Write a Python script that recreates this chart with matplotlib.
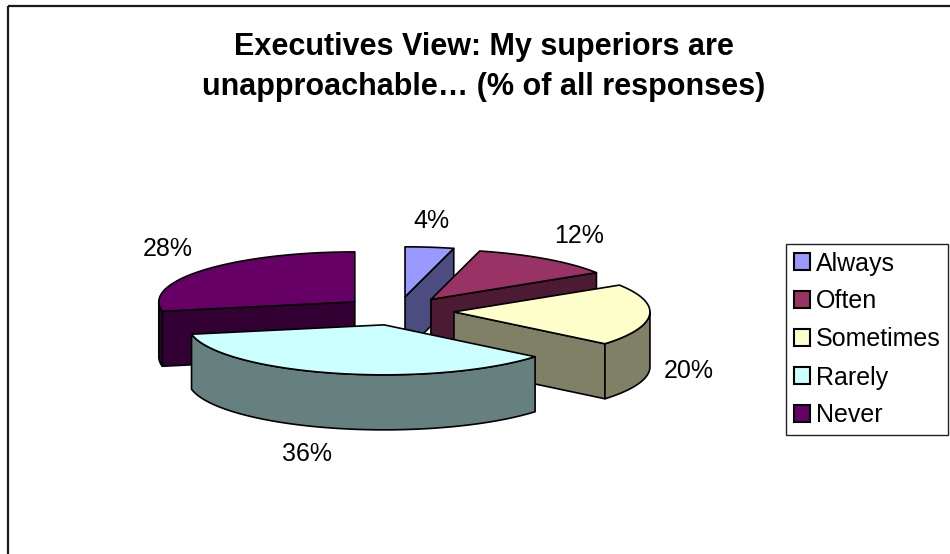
import numpy as np
import matplotlib
matplotlib.use("Agg")
import matplotlib.pyplot as plt
from matplotlib.patches import Polygon, Rectangle, Patch

plt.rcParams['font.family'] = ['Liberation Sans', 'DejaVu Sans']

# Response shares (% of all responses)
categories = ['Always', 'Often', 'Sometimes', 'Rarely', 'Never']
shares = [4, 12, 20, 36, 28]
top_colors = ['#9999FF', '#993366', '#FFFFCC', '#CCFFFF', '#660066']
side_colors = ['#4C4C80', '#4C1A33', '#808066', '#668080', '#330033']

TITLE = 'Executives View: My superiors are\nunapproachable\u2026 (% of all responses)'

# 3-D pie geometry, in figure pixels (y grows downward)
CX, CY = 398, 311
RX, RY = 196, 50
DEPTH = 55
EXPLODE = 0.286
EDGE_LW = 1.2


def rim(cx, cy, ang, dz=0.0):
    t = np.radians(ang)
    return cx + RX * np.sin(t), cy - RY * np.cos(t) + dz


def arc(cx, cy, a0, a1, dz=0.0, n=None):
    n = n or max(int(abs(a1 - a0) / 2) + 2, 3)
    angs = np.linspace(a0, a1, n)
    return [rim(cx, cy, a, dz) for a in angs]


fig = plt.figure(figsize=(9.5, 5.54), dpi=100)
ax = fig.add_axes([0, 0, 1, 1])
ax.set_xlim(0, 950)
ax.set_ylim(554, 0)
ax.axis('off')

# chart area border
ax.add_patch(Rectangle((8, 6), 1000, 600, fill=False, edgecolor='#1a1a1a',
                       linewidth=1.6, zorder=1))

# slice angles, clockwise from 12 o'clock
bounds = np.concatenate([[0], np.cumsum(shares)]) / sum(shares) * 360.0
slices = []
for i in range(len(shares)):
    a0, a1 = bounds[i], bounds[i + 1]
    mid = (a0 + a1) / 2
    cx = CX + EXPLODE * RX * np.sin(np.radians(mid))
    cy = CY - EXPLODE * RY * np.cos(np.radians(mid))
    slices.append((cy, i, a0, a1, mid, cx))

# paint back to front
z = 2
for cy, i, a0, a1, mid, cx in sorted(slices):
    kw = dict(edgecolor='black', linewidth=EDGE_LW, joinstyle='round')
    faces = []
    if np.sin(np.radians(a0)) < -1e-6:
        p = rim(cx, cy, a0)
        faces.append([(cx, cy), p, (p[0], p[1] + DEPTH), (cx, cy + DEPTH)])
    if np.sin(np.radians(a1)) > 1e-6:
        p = rim(cx, cy, a1)
        faces.append([(cx, cy), p, (p[0], p[1] + DEPTH), (cx, cy + DEPTH)])
    lo, hi = max(a0, 90), min(a1, 270)
    if lo < hi:
        faces.append(arc(cx, cy, lo, hi) + arc(cx, cy, hi, lo, DEPTH))
    for f in faces:
        ax.add_patch(Polygon(f, closed=True, facecolor=side_colors[i], zorder=z, **kw))
        z += 1
    top = [(cx, cy)] + arc(cx, cy, a0, a1)
    ax.add_patch(Polygon(top, closed=True, facecolor=top_colors[i], zorder=z, **kw))
    z += 1

    # percentage label just outside the rim
    s, c = np.sin(np.radians(mid)), np.cos(np.radians(mid))
    px, py = rim(cx, cy, mid, DEPTH if c < 0 else 0)
    ha = 'left' if s > 0.2 else ('right' if s < -0.2 else 'center')
    va = 'bottom' if c > 0.3 else ('top' if c < -0.3 else 'center')
    g = 14
    ax.text(px + g * s, py - g * c, f'{shares[i]}%', ha=ha, va=va,
            fontsize=18, color='black', zorder=50)

ax.text(484, 32, TITLE, ha='center', va='top', fontsize=22,
        fontweight='bold', linespacing=1.42, zorder=50)

handles = [Patch(facecolor=col, edgecolor='black', linewidth=1.5)
           for col in top_colors]
leg = ax.legend(handles, categories, loc='upper left',
                bbox_to_anchor=(786 / 950, 1 - 244 / 554),
                prop={'size': 18}, frameon=True, fancybox=False,
                framealpha=1, edgecolor='#222222', borderpad=0.3,
                handlelength=0.65, handleheight=0.65, handletextpad=0.25,
                labelspacing=0.56, borderaxespad=0)
leg.get_frame().set_linewidth(1.0)

fig.savefig('out.png', dpi=100)
